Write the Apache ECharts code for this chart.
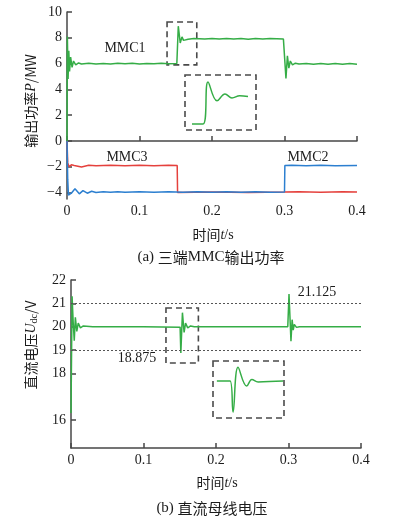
<!DOCTYPE html>
<html><head><meta charset="utf-8">
<script src="https://cdn.jsdelivr.net/npm/echarts@6/dist/echarts.min.js"></script>
<style>html,body{margin:0;padding:0;background:#fff}#c{width:393px;height:529px}</style>
</head><body><div id="c"></div>
<script>
// ---- data (time in s) ----
const xTicks = [0, 0.1, 0.2, 0.3, 0.4];
const powerTicks = [-4, -2, 0, 2, 4, 6, 8, 10];
const voltTicks = [16, 18, 19, 20, 21, 22];
const seriesNames = ['MMC1', 'MMC2', 'MMC3'];

const mmc1 = [[0,0],[0.0005,8.1],[0.0015,4.8],[0.0025,7.0],[0.0035,5.4],[0.005,6.5],[0.007,5.7],[0.009,6.2],[0.012,5.9],[0.016,6.05],[0.02,5.97],[0.03,6.02],[0.04,5.97],[0.05,6.01],[0.06,5.97],[0.07,6.02],[0.08,5.98],[0.09,6.02],[0.1,5.97],[0.11,6.01],[0.12,5.98],[0.13,6.02],[0.14,5.98],[0.1515,6.0],[0.1535,8.9],[0.1562,7.6],[0.1586,8.07],[0.1607,7.8],[0.163,7.95],[0.167,7.88],[0.175,7.94],[0.19,7.9],[0.2,7.95],[0.21,7.9],[0.22,7.95],[0.23,7.9],[0.24,7.94],[0.25,7.89],[0.26,7.94],[0.27,7.9],[0.28,7.95],[0.2985,7.9],[0.3005,7.9],[0.302,4.85],[0.304,6.6],[0.306,5.65],[0.308,6.2],[0.311,5.9],[0.315,6.03],[0.32,5.96],[0.33,6.01],[0.34,5.95],[0.35,6.0],[0.36,5.95],[0.37,6.0],[0.38,5.95],[0.39,6.0],[0.4,5.95]];
const mmc2 = [[0,0],[0.001,-3.0],[0.002,-4.2],[0.006,-4.05],[0.011,-3.7],[0.017,-4.1],[0.022,-3.85],[0.028,-4.05],[0.034,-3.9],[0.04,-4.0],[0.05,-3.93],[0.06,-3.98],[0.07,-3.93],[0.08,-3.97],[0.1,-3.93],[0.12,-3.97],[0.14,-3.93],[0.16,-3.97],[0.18,-3.93],[0.2,-3.97],[0.22,-3.93],[0.24,-3.97],[0.26,-3.93],[0.28,-3.97],[0.3,-3.95],[0.3005,-1.9],[0.31,-1.88],[0.33,-1.92],[0.35,-1.88],[0.37,-1.92],[0.4,-1.9]];
const mmc3 = [[0,0],[0.001,-1.7],[0.003,-2.0],[0.006,-1.85],[0.01,-1.9],[0.02,-2.02],[0.03,-1.88],[0.04,-1.93],[0.06,-1.88],[0.08,-1.92],[0.1,-1.88],[0.12,-1.92],[0.14,-1.88],[0.152,-1.9],[0.1525,-4.0],[0.2,-3.96],[0.25,-4.0],[0.3,-3.96],[0.32,-3.93],[0.35,-3.97],[0.38,-3.93],[0.4,-3.95]];
const udc = [[0,16.3],[0.0015,21.3],[0.003,20.2],[0.0045,19.4],[0.006,20.4],[0.008,19.8],[0.01,20.15],[0.013,19.95],[0.017,20.03],[0.03,20.0],[0.1,20.0],[0.1505,19.98],[0.1515,18.875],[0.1537,20.6],[0.156,19.75],[0.158,20.15],[0.161,19.95],[0.165,20.03],[0.17,20.0],[0.299,20.0],[0.3007,21.4],[0.3034,19.38],[0.305,20.3],[0.3065,19.85],[0.308,20.1],[0.311,19.97],[0.315,20.0],[0.4,20.0]];

// zoomed details shown in the insets
const mmc1Zoom = [[0.1487,6.0],[0.152,6.0],[0.1535,8.9],[0.1562,7.6],[0.1586,8.07],[0.1607,7.8],[0.163,7.95],[0.1655,7.9]];
const udcZoom = [[0.1444,20.0],[0.1502,20.0],[0.1515,18.875],[0.1537,20.5],[0.1575,19.82],[0.1598,20.06],[0.1625,19.97],[0.1735,20.0]];

const refLines = [21, 19];
const refLabels = ['21.125', '18.875'];

const GREEN = '#35ad46', RED = '#e5413d', BLUE = '#2c7fd0';
const AX = '#474747', TXT = '#1c1c1c';
const SERIF = '"Liberation Serif","Noto Sans CJK SC",serif';
const CJK = '"Noto Sans CJK SC","Liberation Serif",serif';
const minus = v => (v < 0 ? '\u2212' + Math.abs(v) : String(v));

function xAxisCfg(gi) {
  return {
    type: 'value', gridIndex: gi, min: 0, max: 0.4, interval: 0.1,
    axisLine: { show: true, lineStyle: { color: AX, width: 1.5 } },
    axisTick: { show: true, inside: true, length: 5, lineStyle: { color: AX, width: 1.5 } },
    axisLabel: { color: TXT, fontFamily: SERIF, fontSize: 14, margin: 5,
      formatter: v => (v === 0 ? '0' : v.toFixed(1)) },
    splitLine: { show: false }
  };
}
function yAxisCfg(gi, min, max, ticks) {
  return {
    type: 'value', gridIndex: gi, min: min, max: max,
    axisLine: { show: true, lineStyle: { color: AX, width: 1.5 } },
    axisTick: { show: true, inside: true, length: 5, customValues: ticks, lineStyle: { color: AX, width: 1.5 } },
    axisLabel: { color: TXT, fontFamily: SERIF, fontSize: 14, margin: 5, customValues: ticks, formatter: minus },
    splitLine: { show: false }
  };
}
const hiddenAxis = (gi, min, max) => ({ type: 'value', gridIndex: gi, min: min, max: max, show: false, splitLine: { show: false } });
const dashBox = { color: 'rgba(0,0,0,0)', borderColor: '#4a4a4a', borderWidth: 1.6, borderType: [6, 4] };

const chart = echarts.init(document.getElementById('c'), null, { renderer: 'canvas' });
const lbl = (text, x, y, extra) => Object.assign({ type: 'text', x: x, y: y, silent: true,
  style: { text: text, fill: TXT, font: '14px ' + SERIF, align: 'center', verticalAlign: 'middle' } }, extra || {});

chart.setOption({
  animation: false,
  backgroundColor: '#fff',
  grid: [
    { left: 67, top: 12, width: 290, height: 187 },
    { left: 71, top: 280, width: 290, height: 168 },
    { left: 185, top: 75, width: 71, height: 55 },
    { left: 213, top: 361, width: 71, height: 57 }
  ],
  xAxis: [xAxisCfg(0), xAxisCfg(1), hiddenAxis(2, 0.1466, 0.1679), hiddenAxis(3, 0.1427, 0.1739)],
  yAxis: [yAxisCfg(0, -4.5, 10, powerTicks), yAxisCfg(1, 14.8, 22, voltTicks), hiddenAxis(2, 5.59, 9.38), hiddenAxis(3, 18.66, 20.73)],
  series: [
    { name: seriesNames[2], type: 'line', xAxisIndex: 0, yAxisIndex: 0, data: mmc3, showSymbol: false, lineStyle: { color: RED, width: 1.5 }, z: 2 },
    { name: seriesNames[1], type: 'line', xAxisIndex: 0, yAxisIndex: 0, data: mmc2, showSymbol: false, lineStyle: { color: BLUE, width: 1.5 }, z: 3 },
    { name: seriesNames[0], type: 'line', xAxisIndex: 0, yAxisIndex: 0, data: mmc1, showSymbol: false, lineStyle: { color: GREEN, width: 1.5 }, z: 4,
      markArea: { silent: true, itemStyle: dashBox, data: [[{ xAxis: 0.138, yAxis: 9.22 }, { xAxis: 0.179, yAxis: 5.9 }]] } },
    { name: 'Udc', type: 'line', xAxisIndex: 1, yAxisIndex: 1, data: udc, showSymbol: false, lineStyle: { color: GREEN, width: 1.5 }, z: 4,
      markLine: { silent: true, symbol: 'none', label: { show: false },
        lineStyle: { color: '#555', width: 1, type: [2, 2] },
        data: refLines.map(v => ({ yAxis: v })) },
      markArea: { silent: true, itemStyle: dashBox, data: [[{ xAxis: 0.131, yAxis: 20.8 }, { xAxis: 0.1757, yAxis: 18.44 }]] } },
    { type: 'line', xAxisIndex: 2, yAxisIndex: 2, data: mmc1Zoom, smooth: 0.4, showSymbol: false, lineStyle: { color: GREEN, width: 1.5 },
      markArea: { silent: true, itemStyle: dashBox, data: [[{ xAxis: 0.1466, yAxis: 9.38 }, { xAxis: 0.1679, yAxis: 5.59 }]] } },
    { type: 'line', xAxisIndex: 3, yAxisIndex: 3, data: udcZoom, smooth: 0.4, showSymbol: false, lineStyle: { color: GREEN, width: 1.5 },
      markArea: { silent: true, itemStyle: dashBox, data: [[{ xAxis: 0.1427, yAxis: 20.73 }, { xAxis: 0.1739, yAxis: 18.66 }]] } }
  ],
  graphic: [
    lbl(seriesNames[0], 125, 48),
    lbl(seriesNames[2], 127, 157),
    lbl(seriesNames[1], 308, 157),
    lbl(refLabels[0], 317, 292),
    lbl(refLabels[1], 137, 358),
    { type: 'text', x: 31, y: 101, rotation: Math.PI / 2, silent: true,
      style: { text: '{c|输出功率}{i|P}{c|/MW}', align: 'center', verticalAlign: 'middle', fill: TXT,
        rich: { c: { fontFamily: CJK, fontSize: 14, fill: TXT }, i: { fontFamily: SERIF, fontSize: 14, fontStyle: 'italic', fill: TXT } } } },
    { type: 'text', x: 31, y: 345, rotation: Math.PI / 2, silent: true,
      style: { text: '{c|直流电压}{i|U}{s|dc}{c|/V}', align: 'center', verticalAlign: 'middle', fill: TXT,
        rich: { c: { fontFamily: CJK, fontSize: 14, fill: TXT }, i: { fontFamily: SERIF, fontSize: 14, fontStyle: 'italic', fill: TXT },
          s: { fontFamily: SERIF, fontSize: 10, fill: TXT, padding: [6, 0, 0, 0] } } } },
    { type: 'text', x: 213, y: 235, silent: true,
      style: { text: '{c|时间}{i|t}{s|/s}', align: 'center', verticalAlign: 'middle', fill: TXT,
        rich: { c: { fontFamily: CJK, fontSize: 14, fill: TXT }, i: { fontFamily: SERIF, fontSize: 14, fontStyle: 'italic', fill: TXT }, s: { fontFamily: SERIF, fontSize: 14, fill: TXT } } } },
    { type: 'text', x: 217, y: 483, silent: true,
      style: { text: '{c|时间}{i|t}{s|/s}', align: 'center', verticalAlign: 'middle', fill: TXT,
        rich: { c: { fontFamily: CJK, fontSize: 14, fill: TXT }, i: { fontFamily: SERIF, fontSize: 14, fontStyle: 'italic', fill: TXT }, s: { fontFamily: SERIF, fontSize: 14, fill: TXT } } } },
    { type: 'text', x: 211, y: 257, silent: true,
      style: { text: '{s|(a) }{c|三端}{s|MMC}{c|输出功率}', align: 'center', verticalAlign: 'middle', fill: TXT,
        rich: { c: { fontFamily: CJK, fontSize: 15, fill: TXT }, s: { fontFamily: SERIF, fontSize: 15, fill: TXT } } } },
    { type: 'text', x: 212, y: 508, silent: true,
      style: { text: '{s|(b) }{c|直流母线电压}', align: 'center', verticalAlign: 'middle', fill: TXT,
        rich: { c: { fontFamily: CJK, fontSize: 15, fill: TXT }, s: { fontFamily: SERIF, fontSize: 15, fill: TXT } } } }
  ]
});
</script></body></html>
